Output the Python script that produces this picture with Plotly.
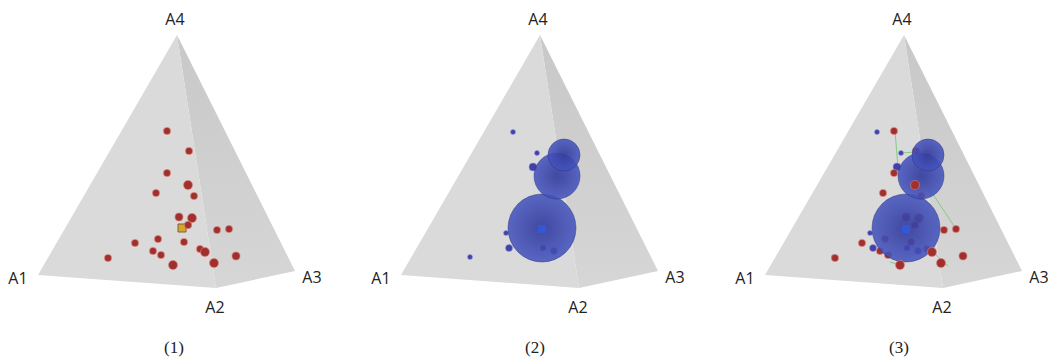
import plotly.graph_objects as go

# pyramid corners, in picture-like units of one panel
corner_names = ['A1', 'A2', 'A3', 'A4']
corner_x = [38, 216, 295, 177]
corner_y = [275, 288, 271, 35]

label_x = [18, 215, 312, 175]
label_y = [280, 309, 279, 21]

red_x = [167, 189, 167, 188, 156, 194, 179, 192, 188, 217, 229, 135, 158, 184, 200, 205, 153, 161, 108, 173, 214, 236]
red_y = [131, 151, 173, 185, 193, 196, 217, 218, 225, 230, 229, 243, 239, 242, 249, 252, 251, 255, 258, 265, 263, 256]
red_size = [7, 7, 7, 9, 7, 7, 8, 9, 7, 7, 7, 7, 7, 7, 7, 9, 7, 7, 7, 9, 9, 8]

# reds that sit in front of the spheres in panel 3
front = [3, 15, 19, 20]

blue_x = [150, 174, 170, 143, 146, 107, 180, 191]
blue_y = [132, 153, 167, 233, 248, 257, 248, 251]
blue_size = [5, 5, 8, 5, 7, 5, 6, 7]

sphere_x = [179, 194, 201]
sphere_y = [228, 176, 155]
sphere_size = [68, 46, 32]

center_x = [182]
center_y = [228]
blue_center_x = [179]
blue_center_y = [229]

green_x = [[168, 171], [229, 194], [221, 180], [163, 173], [174, 201]]
green_y = [[131, 167], [229, 176], [266, 228], [262, 265], [153, 151]]

captions = ['(1)', '(2)', '(3)']
caption_x = [174, 172, 172]
caption_y = 349

offsets = [0, 363, 727]
panel_w = 322

RED = 'rgb(160,48,46)'
HALO = 'rgba(225,130,120,0.55)'

fig = go.Figure()


def add_pyramid(n):
    ax = dict(xaxis='x%d' % n if n > 1 else 'x', yaxis='y')
    fig.add_trace(go.Scatter(
        x=[corner_x[3], corner_x[2], corner_x[1], corner_x[3]],
        y=[corner_y[3], corner_y[2], corner_y[1], corner_y[3]],
        mode='lines', fill='toself', line=dict(width=0),
        fillgradient=dict(type='vertical', colorscale=[[0, '#d6d6d6'], [1, '#c8c8c8']]),
        **ax))
    fig.add_trace(go.Scatter(
        x=[corner_x[3], corner_x[0], corner_x[1], corner_x[3]],
        y=[corner_y[3], corner_y[0], corner_y[1], corner_y[3]],
        mode='lines', fill='toself', line=dict(width=0),
        fillcolor='#dadada', **ax))
    fig.add_trace(go.Scatter(
        x=label_x, y=label_y, text=corner_names, mode='text', cliponaxis=False,
        textfont=dict(family='Open Sans', size=16, color='#222222'), **ax))
    fig.add_trace(go.Scatter(
        x=[caption_x[n - 1]], y=[caption_y], text=[captions[n - 1]], mode='text', cliponaxis=False,
        textfont=dict(family='Liberation Serif', size=17, color='#222222'), **ax))


def add_reds(n, idx):
    fig.add_trace(go.Scatter(
        x=[red_x[i] for i in idx], y=[red_y[i] for i in idx], mode='markers',
        marker=dict(size=[red_size[i] for i in idx], color=RED, opacity=1,
                    line=dict(width=1.2, color=HALO)),
        xaxis='x%d' % n if n > 1 else 'x', yaxis='y'))


def add_blues(n):
    fig.add_trace(go.Scatter(
        x=blue_x, y=blue_y, mode='markers',
        marker=dict(size=blue_size, color='rgb(65,65,170)', opacity=1,
                    line=dict(width=1, color='rgba(150,150,220,0.5)')),
        xaxis='x%d' % n, yaxis='y'))


def add_spheres(n):
    # biggest first so the small one lands on top
    for i in range(3):
        fig.add_trace(go.Scatter(
            x=[sphere_x[i]], y=[sphere_y[i]], mode='markers',
            marker=dict(size=sphere_size[i], color='rgba(68,84,190,0.87)',
                        gradient=dict(type='radial', color='rgba(52,60,155,0.92)'),
                        line=dict(width=1, color='rgba(40,45,120,0.45)')),
            xaxis='x%d' % n, yaxis='y'))
    fig.add_trace(go.Scatter(
        x=blue_center_x, y=blue_center_y, mode='markers',
        marker=dict(size=8, symbol='square', color='rgb(52,88,212)'),
        xaxis='x%d' % n, yaxis='y'))


# panel 1
add_pyramid(1)
add_reds(1, list(range(len(red_x))))
fig.add_trace(go.Scatter(
    x=center_x, y=center_y, mode='markers',
    marker=dict(size=8, symbol='square', color='rgb(215,165,40)', line=dict(width=1, color='rgb(120,100,50)')),
    xaxis='x', yaxis='y'))
add_reds(1, [8])

# panel 2
add_pyramid(2)
add_blues(2)
add_spheres(2)

# panel 3
add_pyramid(3)
for gx, gy in zip(green_x, green_y):
    fig.add_trace(go.Scatter(x=gx, y=gy, mode='lines', line=dict(width=1, color='rgb(130,205,130)'),
                             xaxis='x3', yaxis='y'))
add_blues(3)
add_reds(3, [i for i in range(len(red_x)) if i not in front])
add_spheres(3)
add_reds(3, front)

fig_w = 1049
fig_h = 361

hidden = dict(visible=False, fixedrange=True)
layout_x = {}
for k, off in enumerate(offsets):
    name = 'xaxis' if k == 0 else 'xaxis%d' % (k + 1)
    layout_x[name] = dict(hidden, range=[0, panel_w], anchor='y',
                          domain=[off / fig_w, (off + panel_w) / fig_w])

fig.update_layout(
    width=fig_w, height=fig_h, margin=dict(l=0, r=0, t=0, b=0),
    paper_bgcolor='white', plot_bgcolor='white', showlegend=False, hovermode=False,
    yaxis=dict(hidden, range=[fig_h, 0], domain=[0, 1]),
    **layout_x)

# no page margin or scrollbar, so the figure fills the whole window
fig.write_html("out.html", config=dict(displayModeBar=False),
               post_script="document.body.style.margin='0';document.documentElement.style.overflow='hidden';")
